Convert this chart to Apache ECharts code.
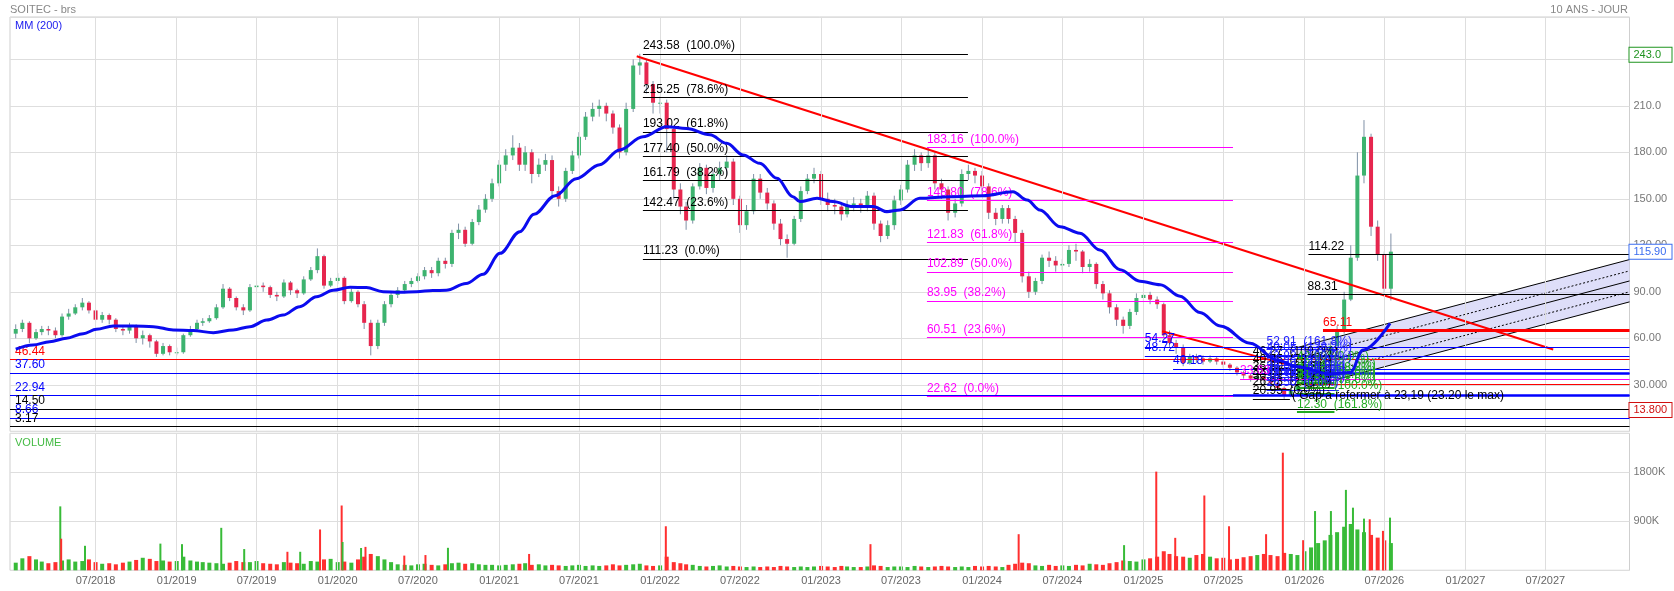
<!DOCTYPE html>
<html><head><meta charset="utf-8">
<script src="https://cdn.jsdelivr.net/npm/echarts@6/dist/echarts.min.js"></script>
<style>html,body{margin:0;padding:0;background:#fff}#c{width:1674px;height:591px}</style>
</head><body><div id="c"></div>
<script>
// ---------------- DATA ----------------
const xMin = '2017-12-19', xMax = '2028-01-08';
const xTickDates = ['2018-07-01','2019-01-01','2019-07-01','2020-01-01','2020-07-01','2021-01-01','2021-07-01','2022-01-01','2022-07-01','2023-01-01','2023-07-01','2024-01-01','2024-07-01','2025-01-01','2025-07-01','2026-01-01','2026-07-01','2027-01-01','2027-07-01'];
const xTickLabels = ['07/2018','01/2019','07/2019','01/2020','07/2020','01/2021','07/2021','01/2022','07/2022','01/2023','07/2023','01/2024','07/2024','01/2025','07/2025','01/2026','07/2026','01/2027','07/2027'];
const priceTickValues = [30,60,90,120,150,180,210];
const priceTickLabels = ['30.000','60.00','90.00','120.00','150.00','180.00','210.0'];
const volTickValues = [900000,1800000];
const volTickLabels = ['900K','1800K'];

// half-monthly candles (1st and 16th), 2018-01-01 .. 2026-07-16 ; open = previous close
const firstOpen = 63;
const priceClose = [
 66,70,60,64,66,65,62,74,76,80,83,78,72,75,72,66,65,68,60,62,58,50,55,51,
 51,62,66,70,71,73,80,92,86,80,78,93,94,93,88,87,96,91,89,98,104,113,94,97,
 99,84,90,82,70,55,70,82,88,91,95,97,100,104,102,110,108,128,130,121,135,143,150,160,
 172,178,183,172,180,166,172,175,155,150,168,178,190,203,208,210,205,196,180,208,236,238,224,212,
 212,195,156,145,136,158,170,157,166,170,174,150,133,142,163,154,147,134,124,121,137,155,163,166,
 150,146,145,140,146,147,145,152,134,126,133,149,156,172,178,173,178,160,156,141,147,166,168,165,
 158,141,137,144,137,128,100,90,97,112,110,107,108,117,116,106,108,95,89,80,72,68,77,86,
 88,85,82,62,57,54,44,48,47,45,47,45,43,41,38,36,34,35,33,31,28,23,26,30,
 34,38,40,44,55,65,85,112,165,190,132,114,92,115.9];
const priceLow = [
 60,64,57,59,62,62,60,61,72,75,78,76,70,70,69,64,62,63,57,56,54,48,49,49,
 49,50,61,64,68,70,72,79,84,78,75,77,90,90,86,84,86,88,86,88,97,102,92,93,
 95,82,83,80,66,49,53,68,80,86,89,93,96,98,99,100,105,106,124,119,120,133,141,148,
 158,168,175,168,168,160,164,168,150,145,148,166,176,188,200,203,200,192,176,178,206,230,218,205,
 205,180,150,140,130,134,156,153,154,162,165,146,128,130,140,150,143,130,120,112,120,135,153,160,
 146,142,140,136,138,142,141,142,130,122,124,130,146,154,168,168,170,156,150,136,138,145,162,160,
 154,137,133,134,134,122,96,86,88,95,106,103,104,106,110,102,103,92,85,76,68,63,66,75,
 84,82,79,60,54,50,42,43,44,43,44,43,41,39,36,34,32,32,31,29,26,20.95,22,25,
 28,32,36,38,42,52,63,84,110,160,126,110,88,84.4];
const priceHigh = [
 69,72,71,66,68,68,67,76,79,82,86,84,79,77,76,73,68,70,69,65,63,59,57,56,
 54,63,68,72,73,75,82,95,93,87,82,95,97,96,94,90,98,97,92,100,106,118,114,99,
 102,100,92,91,84,72,72,84,90,93,97,99,102,106,106,112,112,130,134,132,137,146,153,163,
 175,182,191,186,184,182,176,179,178,158,170,181,193,206,212,214,212,207,198,212,240,243.58,240,226,
 216,214,196,160,148,160,173,172,169,174,178,176,152,146,166,166,157,149,137,127,139,158,166,170,
 168,154,150,148,149,151,150,155,154,136,136,152,159,175,182,180,183,180,163,158,150,169,172,170,
 168,160,144,146,146,139,130,103,99,114,116,113,111,120,121,117,111,109,97,91,82,74,79,89,
 90,90,87,83,65,59,56,50,50,49,49,48,47,44,42,39,37,37,36,34,32,29,28,32,
 36,40,43,47,58,68,90,120,180,200.8,192,136,116,127.6];
// volume (thousands) per half-month candle
const volumeK = [
 140,220,260,200,160,130,150,180,200,160,170,200,150,120,130,110,140,160,190,230,210,170,180,160,
 170,250,180,160,150,140,130,120,140,170,150,150,170,130,120,110,150,140,130,120,170,160,200,210,
 150,160,140,200,250,300,260,200,150,110,100,90,110,120,100,90,110,130,140,120,130,110,100,100,
 90,100,110,120,130,100,110,90,100,90,80,90,100,80,90,80,90,110,90,100,110,120,90,80,
 90,250,150,130,110,100,80,70,80,90,70,80,70,60,70,60,70,60,80,70,60,70,60,70,
 80,70,60,80,70,60,60,70,90,80,60,70,70,60,80,70,60,70,80,70,60,70,60,80,
 70,80,70,60,100,120,140,130,90,80,100,80,90,80,100,90,120,110,100,130,150,180,170,160,
 200,220,250,350,300,260,250,230,280,300,250,220,230,200,210,240,260,280,300,280,260,320,300,280,
 350,420,500,550,650,700,800,850,750,700,650,600,550,500];
// single-day volume spikes [date, thousands, up(1)/down(0)]
const volumeSpikes = [
 ['2018-04-12',1174,1],['2018-04-14',580,0],['2018-06-07',450,1],['2018-11-25',490,1],['2019-01-13',480,1],
 ['2019-04-12',780,1],['2019-06-03',390,1],['2019-09-09',340,0],['2019-10-08',340,1],['2019-11-22',750,0],
 ['2020-01-10',1190,0],['2020-01-12',520,1],['2020-02-23',410,1],['2020-03-04',430,0],['2020-05-31',270,0],
 ['2020-07-18',280,0],['2020-09-07',413,1],['2021-03-10',300,0],['2022-01-14',809,0],['2023-04-23',480,0],
 ['2024-03-24',663,0],['2024-11-18',462,1],['2025-01-30',1812,0],['2025-03-14',596,0],['2025-05-19',1374,0],
 ['2025-07-14',809,0],['2025-10-06',663,0],['2025-11-13',2160,0],['2025-12-29',553,0],['2026-01-25',1088,1],
 ['2026-03-02',1088,1],['2026-04-05',1477,1],['2026-04-21',1150,1],['2026-05-16',949,1],['2026-05-29',937,0],
 ['2026-06-28',724,0],['2026-07-14',967,1]];

// MM(200)
const maDates = ['2018-01-01','2018-02-09','2018-03-19','2018-04-26','2018-06-03','2018-07-03','2018-08-10','2018-09-24','2018-11-09','2018-12-24',
 '2019-02-07','2019-03-25','2019-05-09','2019-06-16','2019-07-24','2019-08-30','2019-10-07','2019-11-14','2019-12-22','2020-01-29',
 '2020-03-06','2020-04-13','2020-05-21','2020-06-28','2020-08-04','2020-09-03','2020-10-18','2020-11-26','2021-01-03','2021-02-17',
 '2021-03-21','2021-05-08','2021-06-25','2021-08-17','2021-10-01','2021-11-23','2022-01-16','2022-03-02','2022-04-24','2022-06-01',
 '2022-07-08','2022-08-15','2022-09-23','2022-10-29','2022-11-14','2022-12-23','2023-01-28','2023-03-14','2023-04-29','2023-05-30',
 '2023-06-29','2023-08-13','2023-10-20','2024-01-03','2024-03-11','2024-04-12','2024-05-11','2024-06-26','2024-08-10','2024-09-24',
 '2024-11-09','2024-12-24','2025-02-08','2025-03-25','2025-05-09','2025-06-24','2025-08-31','2025-10-31','2025-12-15','2026-02-28',
 '2026-04-15','2026-05-14','2026-07-14'];
const maValues = [53.0,55.7,57.8,60.0,63.0,65.8,67.9,67.9,67.5,65.4,
 65.0,63.6,65.4,67.5,71.8,75.0,80.4,86.8,91.0,92.9,
 92.7,90.1,89.7,90.1,90.8,91.0,95.4,101.4,114.8,128.8,
 140,152,163,172,181.5,190,196.5,195.4,191.3,185.8,
 178.3,172.9,163.2,151.4,148.2,150.3,148.2,145,145,141.7,
 142.8,150.3,151.4,152,154.6,149.2,142.8,132,127.8,117,
 104.3,96.8,94.6,87.1,76.6,68,56.8,46,41.7,37,
 38,52.5,69.6];

// trend lines [start, end] dates and values
const trend1Dates = ['2021-11-09','2027-07-19'], trend1Values = [242, 52.8];
const trend2Dates = ['2025-02-12','2025-12-15'], trend2Values = [64.6, 41.4];
// regression channel
const channelDates = ['2025-12-15', xMax];
const channelUpper = [54.0,110.8], channelDot1 = [46.7,103.5], channelMid = [40.2,97.0], channelDot2 = [33.2,90.0], channelLower = [26.7,83.5];

// Fibonacci retracements
const pctStd = ['100.0%','78.6%','61.8%','50.0%','38.2%','23.6%','0.0%'];
const fibBlackSpan = ['2021-11-23','2023-11-30'];
const fibBlackLevels = [243.58,215.25,193.02,177.40,161.79,142.47,111.23];
const fibPinkSpan = ['2023-08-29','2025-07-23'];
const fibPinkLevels = [183.16,148.80,121.83,102.89,83.95,60.51,22.62];
const fibSmallSpan = ['2025-09-06','2025-11-29'];
const fibSmallLevels = [46.27,40.85,36.60,33.61,30.62,26.93,20.95];
const fibBlueSpan = ['2025-10-07','2026-03-20'];
const fibBlueLevels = [52.91,49.05,42.82,39.33,36.59,34.66,32.73,30.35,26.50];
const fibBluePct = ['161.8%','138.2%','100.0%','78.6%','61.8%','50.0%','38.2%','23.6%','0.0%'];
const fibGreenSpan = ['2025-12-15','2026-03-10'];
const fibGreenLevels = [42.90,38.44,35.68,33.45,31.21,28.04,23.99,12.30];
const fibGreenPct = ['0.0%','23.6%','38.2%','50.0%','61.8%','78.6%','100.0%','161.8%'];

// full width horizontal levels
const fullLevels = [46.44,37.60,22.94,14.50,8.66,3.17];
const fullColors = ['#ff0000','#0000ff','#0000ff','#000000','#0000ff','#000000'];
// levels running to the right edge
const rightLevels = [54.27,48.72,40.18,65.11,114.22,88.31,33.63,30.30,22.94,37.60];
const rightStarts = ['2025-01-04','2025-01-04','2025-03-09','2026-02-12','2026-01-10','2026-01-08','2025-08-08','2025-12-15','2025-07-23','2025-12-15'];
const rightLabels = ['54.27','48.72','40.18','65.11','114.22','88.31','33.63','','',''];
const rightColors = ['#0000ff','#0000ff','#0000ff','#ff0000','#000000','#000000','#ff00ff','#ff0000','#0000ff','#0000ff'];
const rightWidths = [1,1,1,3,1,1,1,1,2.5,2.5];
const gapText = '( Gap à refermer à 23,19 (23.20 le max)';
const gapTextDates = ['2025-11-01','2025-11-29'];
// boxed values on the right scale
const boxValues = [243.0, 115.90, 13.80];
const boxTexts = ['243.0','115.90','13.800'];
const boxColors = ['#1f941f','#3a6cf0','#d01010'];

// ---------------- BUILD ----------------
const T = s => Date.parse(s + 'T00:00:00Z');
const FONT = "'Liberation Sans', Arial, Helvetica, sans-serif";
const CLEAR = 'rgba(0,0,0,0)';

const priceDates = [];
for (let y = 2018; y <= 2026; y++) for (let m = 1; m <= 12; m++) for (const d of ['01','16']) {
  if (priceDates.length < priceClose.length) priceDates.push(y + '-' + String(m).padStart(2,'0') + '-' + d);
}
const candleData = priceClose.map((c, i) => [T(priceDates[i]), i ? priceClose[i-1] : firstOpen, c, priceLow[i], priceHigh[i]]);
const volData = volumeK.map((v, i) => [T(priceDates[i]), v * 1000, candleData[i][2] >= candleData[i][1] ? 1 : 0]);
const spikeData = volumeSpikes.map(s => [T(s[0]), s[1] * 1000, s[2]]);

const lines = [];
function seg(d1, d2, v, color, width, text, labelColor, type) {
  lines.push([{coord:[T(d1), v], lineStyle:{color, width, type: type || 'solid'},
    label: text ? {show:true, position:'insideStartTop', distance:[0,2], formatter:text, color: labelColor || color, fontSize:12, fontFamily:FONT} : {show:false}},
    {coord:[T(d2), v]}]);
}
function fib(span, levels, pcts, color, width) {
  levels.forEach((v, i) => seg(span[0], span[1], v, color, width, v.toFixed(2) + '  (' + pcts[i] + ')'));
}
fib(fibBlackSpan, fibBlackLevels, pctStd, '#000000', 1);
fib(fibPinkSpan, fibPinkLevels, pctStd, '#ff00ff', 1);
fib(fibSmallSpan, fibSmallLevels, pctStd, '#000000', 1);
fib(fibGreenSpan, fibGreenLevels, fibGreenPct, '#22aa22', 2);
fib(fibBlueSpan, fibBlueLevels, fibBluePct, '#2020ff', 1);
rightLevels.forEach((v, i) => seg(rightStarts[i], xMax, v, rightColors[i], rightWidths[i], rightLabels[i]));
fullLevels.forEach((v, i) => lines.push({yAxis: v, lineStyle:{color: fullColors[i], width:1, type:'solid'},
  label:{show:true, position:'insideStartTop', distance:[5,2], formatter: v.toFixed(2), color: fullColors[i], fontSize:12, fontFamily:FONT}}));
lines.push([{coord:[T(gapTextDates[0]), 22.94], lineStyle:{color:CLEAR, width:1},
  label:{show:true, position:'end', distance:2, formatter:gapText, color:'#000', fontSize:12, fontFamily:FONT}}, {coord:[T(gapTextDates[1]), 22.94]}]);

const boxes = boxValues.map((v, i) => ({yAxis: v, lineStyle:{color:CLEAR, width:1},
  label:{show:true, position:'end', distance:0, formatter: boxTexts[i], color: boxColors[i], borderColor: boxColors[i], borderWidth:1,
    backgroundColor:'#fff', padding:[2,4,1,4], width:34, lineHeight:11, fontSize:11, fontFamily:FONT, align:'left'}}));

const vGrid0 = xTickDates.map(d => ({xAxis: T(d), lineStyle:{color:'#dedede', width:1, type:'solid'}, label:{show:false}}));
const vGrid1 = xTickDates.map((d, i) => ({xAxis: T(d), lineStyle:{color:'#dedede', width:1, type:'solid'},
  label:{show:true, position:'start', distance:5, formatter: xTickLabels[i], color:'#666', fontSize:11, fontFamily:FONT}}));

function dummy(xi, yi, z, markData) {
  return {type:'line', xAxisIndex:xi, yAxisIndex:yi, z, silent:true, symbol:'none', showSymbol:false,
    data:[[T('2018-01-01'), xi === 0 ? 60 : 0]], lineStyle:{color:CLEAR},
    markLine:{silent:true, symbol:['none','none'], animation:false, data: markData}};
}
function twoPt(dates, vals, color, width, type, z) {
  return {type:'line', xAxisIndex:0, yAxisIndex:0, z, silent:true, symbol:'none', showSymbol:false,
    data: dates.map((d, i) => [T(d), vals[i]]), lineStyle:{color, width, type}};
}

const option = {
  animation:false,
  backgroundColor:'#ffffff',
  textStyle:{fontFamily:FONT},
  title:[
    {text:'SOITEC - brs', left:10, top:4, padding:0, textStyle:{fontSize:11, color:'#888', fontWeight:'normal', fontFamily:FONT}},
    {text:'10 ANS - JOUR', right:46, top:4, padding:0, textStyle:{fontSize:11, color:'#888', fontWeight:'normal', fontFamily:FONT}},
    {text:'MM (200)', left:15, top:20, padding:0, textStyle:{fontSize:11, color:'#1a1aee', fontWeight:'normal', fontFamily:FONT}},
    {text:'VOLUME', left:15, top:437, padding:0, textStyle:{fontSize:11, color:'#44bb44', fontWeight:'normal', fontFamily:FONT}}
  ],
  grid:[
    {left:10, right:44.5, top:17, height:414.3, show:true, borderColor:'#cfcfcf', borderWidth:1, backgroundColor:CLEAR},
    {left:10, right:44.5, top:433.3, height:137, show:true, borderColor:'#cfcfcf', borderWidth:1, backgroundColor:CLEAR}
  ],
  xAxis:[0,1].map(g => ({gridIndex:g, type:'time', min:T(xMin), max:T(xMax),
    axisLabel:{show:false}, axisTick:{show:false}, axisLine:{show:false}, splitLine:{show:false}})),
  yAxis:[
    {gridIndex:0, type:'value', position:'right', min:0, max:267.3, interval:30,
     axisLine:{show:false}, axisTick:{show:false}, splitLine:{lineStyle:{color:'#dedede'}},
     axisLabel:{color:'#777', fontSize:11, margin:4, fontFamily:FONT,
       formatter: v => { const k = priceTickValues.indexOf(v); return k >= 0 ? priceTickLabels[k] : ''; }}},
    {gridIndex:1, type:'value', position:'right', min:0, max:2516000, interval:900000,
     axisLine:{show:false}, axisTick:{show:false}, splitLine:{lineStyle:{color:'#dedede'}},
     axisLabel:{color:'#777', fontSize:11, margin:4, fontFamily:FONT,
       formatter: v => { const k = volTickValues.indexOf(v); return k >= 0 ? volTickLabels[k] : ''; }}}
  ],
  series:[
    dummy(0, 0, 0, vGrid0),
    {type:'custom', xAxisIndex:0, yAxisIndex:0, z:1, silent:true,
     data:[[T(channelDates[0]), channelLower[0]]],
     renderItem(params, api) {
       const pts = [api.coord([T(channelDates[0]), channelUpper[0]]), api.coord([T(channelDates[1]), channelUpper[1]]),
                    api.coord([T(channelDates[1]), channelLower[1]]), api.coord([T(channelDates[0]), channelLower[0]])];
       return {type:'polygon', shape:{points:pts}, style:{fill:'rgba(200,200,245,0.6)'}};
     }},
    dummy(0, 0, 2, lines),
    {type:'custom', xAxisIndex:0, yAxisIndex:0, z:3, silent:true, data:candleData, encode:{x:0, y:[1,2,3,4]},
     renderItem(params, api) {
       const t = api.value(0), o = api.value(1), c = api.value(2);
       const pO = api.coord([t, o]), pC = api.coord([t, c]), pL = api.coord([t, api.value(3)]), pH = api.coord([t, api.value(4)]);
       const top = Math.min(pO[1], pC[1]), h = Math.max(1, Math.abs(pO[1] - pC[1]));
       return {type:'group', children:[
         {type:'line', shape:{x1:pL[0], y1:pL[1], x2:pH[0], y2:pH[1]}, style:{stroke:'#7f90a6', lineWidth:1}},
         {type:'rect', shape:{x:pO[0] - 2, y:top, width:4, height:h}, style:{fill: c >= o ? '#3db36f' : '#e6264e'}}
       ]};
     }},
    twoPt(channelDates, channelUpper, '#000', 1, 'solid', 3),
    twoPt(channelDates, channelDot1, '#000', 1, [2,2], 3),
    twoPt(channelDates, channelMid, '#000', 1, 'solid', 3),
    twoPt(channelDates, channelDot2, '#000', 1, [2,2], 3),
    twoPt(channelDates, channelLower, '#000', 1, 'solid', 3),
    twoPt(trend1Dates, trend1Values, '#ff0000', 2, 'solid', 4),
    twoPt(trend2Dates, trend2Values, '#ff0000', 2, 'solid', 4),
    {type:'line', xAxisIndex:0, yAxisIndex:0, z:5, silent:true, symbol:'none', showSymbol:false, smooth:0.35, smoothMonotone:'x',
     data: maDates.map((d, i) => [T(d), maValues[i]]), lineStyle:{color:'#0b0bef', width:3}},
    dummy(0, 0, 10, boxes),
    dummy(1, 1, 0, vGrid1),
    {type:'custom', xAxisIndex:1, yAxisIndex:1, z:2, silent:true, data:volData, encode:{x:0, y:1},
     renderItem(params, api) {
       const p = api.coord([api.value(0), api.value(1)]), b = api.coord([api.value(0), 0]);
       return {type:'rect', shape:{x:p[0] - 2, y:p[1], width:4, height:b[1] - p[1]}, style:{fill: api.value(2) ? '#38bb38' : '#ff2f2f'}};
     }},
    {type:'custom', xAxisIndex:1, yAxisIndex:1, z:3, silent:true, data:spikeData, encode:{x:0, y:1},
     renderItem(params, api) {
       const p = api.coord([api.value(0), api.value(1)]), b = api.coord([api.value(0), 0]);
       return {type:'rect', shape:{x:p[0] - 1, y:p[1], width:2, height:b[1] - p[1]}, style:{fill: api.value(2) ? '#38bb38' : '#ff2f2f'}};
     }}
  ]
};
const chart = echarts.init(document.getElementById('c'));
chart.setOption(option);
</script>
</body></html>
